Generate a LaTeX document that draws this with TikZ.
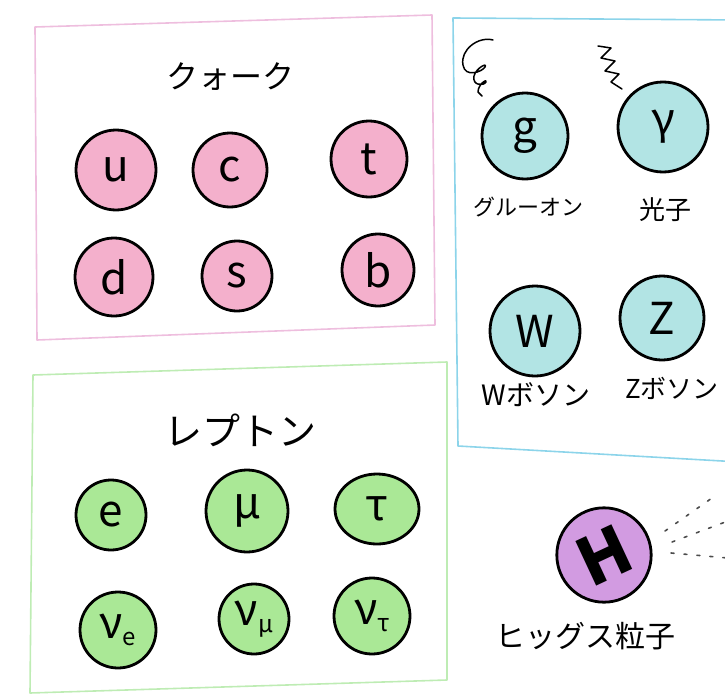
\documentclass[tikz,border=0pt]{standalone}
\usepackage{fontspec}
\usetikzlibrary{shapes.geometric}
\setmainfont{Noto Sans CJK JP}
\definecolor{pinkfill}{RGB}{244,176,204}
\definecolor{pinkline}{RGB}{238,190,222}
\definecolor{bluefill}{RGB}{178,228,228}
\definecolor{blueline}{RGB}{140,212,234}
\definecolor{greenfill}{RGB}{170,232,150}
\definecolor{greenline}{RGB}{190,236,180}
\definecolor{purplefill}{RGB}{210,155,225}
\tikzset{
  ptc/.style={circle, draw=black, line width=2.8pt, inner sep=0pt, text=black,
    font=\fontsize{44}{44}\selectfont},
  qk/.style={ptc, fill=pinkfill},
  bs/.style={ptc, fill=bluefill},
  lp/.style={ptc, fill=greenfill},
  hg/.style={ptc, fill=purplefill, font=\fontsize{66}{66}\selectfont\bfseries},
  frame/.style={line width=1.6pt, line join=round},
  title/.style={font=\fontsize{32}{32}\selectfont},
  lbl/.style={font=\fontsize{22}{22}\selectfont},
  squig/.style={line width=1.5pt, line cap=round, line join=round},
  dots/.style={line width=1.6pt, dash pattern=on 3pt off 10pt, line cap=round, black!70}
}
\newcommand{\subsc}[1]{{\fontsize{24}{24}\selectfont\raisebox{-7pt}{#1}}}
\begin{document}
\begin{tikzpicture}[x=1pt,y=-1pt]
\useasboundingbox (0,0) rectangle (725,693);
% quark frame
\draw[frame, pinkline] (35,27) -- (432,15) -- (435,325) -- (37,340) -- cycle;
\node[title] (qtitle) at (230,77) {クォーク};
\node[qk, minimum size=80pt] (u) at (116,170) {u};
\node[qk, minimum size=74pt] (c) at (230,170) {c};
\node[qk, minimum size=76pt] (t) at (369,159) {t};
\node[qk, minimum size=78pt] (d) at (114,277) {d};
\node[qk, minimum size=70pt] (s) at (237,276) {s};
\node[qk, minimum size=72pt] (b) at (378,270) {b};
% boson frame
\draw[frame, blueline] (740,20) -- (453,18) -- (458,446) -- (740,462);
\node[bs, minimum size=86pt] (g) at (525,136) {g};
\node[bs, minimum size=90pt] (gam) at (663,127) {γ};
\node[bs, minimum size=90pt] (w) at (535,331) {W};
\node[bs, minimum size=84pt] (z) at (662,318) {Z};
\node[lbl] (gl) at (528,207) {グルーオン};
\node[lbl, font=\fontsize{26}{26}\selectfont] (ph) at (665,210) {光子};
\node[lbl, font=\fontsize{28}{28}\selectfont] (wl) at (536,395) {Wボソン};
\node[lbl, font=\fontsize{26}{26}\selectfont] (zl) at (672,388) {Zボソン};
\draw[squig] (493,40) .. controls (478,36) and (460,50) .. (463,65)
  .. controls (465,78) and (482,72) .. (485,67)
  .. controls (488,62) and (476,68) .. (474,76)
  .. controls (472,86) and (484,86) .. (486,82)
  .. controls (488,78) and (478,84) .. (478,92) -- (482,96);
\draw[squig] (598,46) -- (611,48) -- (601,58) -- (615,61) -- (605,71) -- (619,74) -- (611,82) -- (622,89);
% lepton frame
\draw[frame, greenline] (33,375) -- (447,362) -- (447,680) -- (30,693) -- cycle;
\node[title, font=\fontsize{38}{38}\selectfont] (ltitle) at (240,430) {レプトン};
\node[lp, minimum size=70pt] (e) at (111,515) {e};
\node[lp, minimum size=82pt] (mu) at (247,511) {μ};
\node[lp, ellipse, minimum width=84pt, minimum height=70pt] (tau) at (377,509) {τ};
\node[lp, minimum size=76pt] (nue) at (118,630) {ν\subsc{e}};
\node[lp, minimum size=70pt] (numu) at (254,619) {ν\subsc{μ}};
\node[lp, minimum size=76pt] (nutau) at (372,616) {ν\subsc{τ}};
% higgs
\node[hg, minimum size=94pt] (h) at (604,555) {\rotatebox{25}{H}};
\node[lbl, font=\fontsize{30}{30}\selectfont] (hl) at (585,636) {ヒッグス粒子};
\coordinate (hs1) at (665,531);
\coordinate (he1) at (712,498);
\coordinate (hs2) at (672,542);
\coordinate (he2) at (728,521);
\coordinate (hs3) at (671,553);
\coordinate (he3) at (728,558);
\draw[dots] (hs1) -- (he1);
\draw[dots] (hs2) -- (he2);
\draw[dots] (hs3) -- (he3);
\end{tikzpicture}
\end{document}
